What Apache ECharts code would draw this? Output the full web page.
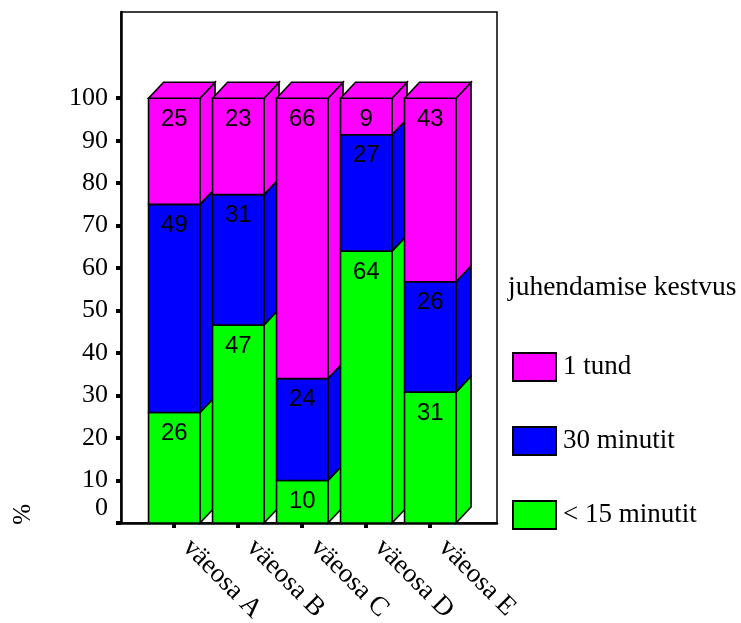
<!DOCTYPE html>
<html><head><meta charset="utf-8">
<script src="https://cdn.jsdelivr.net/npm/echarts@6/dist/echarts.min.js"></script>
<style>html,body{margin:0;padding:0;background:#fff}#c{width:741px;height:623px}</style>
</head><body><div id="c"></div>
<script>
const categories = ['väeosa A', 'väeosa B', 'väeosa C', 'väeosa D', 'väeosa E'];
const seriesNames = ['< 15 minutit', '30 minutit', '1 tund'];
const less15 = [26, 46.6, 10, 64, 30.8];
const min30 = [49, 30.7, 24, 27.4, 26];
const hour1 = [25, 22.7, 66, 8.6, 43.2];
const yTicks = [0, 10, 20, 30, 40, 50, 60, 70, 80, 90, 100];
const colors = ['#00FF00', '#0000FF', '#FF00FF'];

const SERIF = '"Liberation Serif","Times New Roman",serif';
const SANS = '"Liberation Sans",Arial,sans-serif';
const FW = 51.5, DX = 15, DY = 16;

const stackVals = [less15, min30, hour1];
const cum = categories.map(() => 0);
const seriesData = stackVals.map(arr => arr.map((v, i) => {
  const lo = cum[i]; cum[i] += v; return [i, lo, cum[i], v];
}));

function makeRender(k) {
  return function (params, api) {
    const i = api.value(0), lo = api.value(1), hi = api.value(2), v = api.value(3);
    const pLo = api.coord([i, lo]), pHi = api.coord([i, hi]);
    const x0 = pLo[0] - FW / 2 + 1, yl = pLo[1], yh = pHi[1];
    const st = { fill: colors[k], stroke: '#000', lineWidth: 1.6 };
    const base = i * 10;
    const ch = [
      { type: 'polygon', z2: base + k, shape: { points: [[x0 + FW, yl], [x0 + FW + DX, yl - DY], [x0 + FW + DX, yh - DY], [x0 + FW, yh]] }, style: st },
      { type: 'rect', z2: base + k, shape: { x: x0, y: yh, width: FW, height: yl - yh }, style: st },
      { type: 'text', z2: base + 6, style: { text: String(Math.round(v)), x: x0 + FW / 2, y: yh + 21, fill: '#000', font: '24px ' + SANS, textAlign: 'center', textVerticalAlign: 'middle' } }
    ];
    if (k === 2) {
      ch.push({ type: 'polygon', z2: base + 4, shape: { points: [[x0, yh], [x0 + DX, yh - DY], [x0 + FW + DX, yh - DY], [x0 + FW, yh]] }, style: st });
    }
    return { type: 'group', children: ch };
  };
}

const chart = echarts.init(document.getElementById('c'));
chart.setOption({
  animation: false,
  title: { text: 'juhendamise kestvus', left: 508, top: 274, padding: 0,
    textStyle: { fontFamily: SERIF, fontSize: 27.5, fontWeight: 'normal', color: '#000' } },
  legend: {
    data: ['1 tund', '30 minutit', '< 15 minutit'],
    orient: 'vertical', left: 512, top: 352, padding: 0,
    itemWidth: 43, itemHeight: 28, itemGap: 44, icon: 'rect',
    itemStyle: { borderColor: '#000', borderWidth: 2 },
    textStyle: { fontFamily: SERIF, fontSize: 27, color: '#000', padding: [0, 0, 0, 2] }
  },
  grid: { left: 121, right: 244, top: 12, bottom: 100, show: true, borderColor: '#000', borderWidth: 1.5,
    containLabel: false, outerBoundsMode: 'none' },
  xAxis: {
    type: 'value', min: -0.817, max: 5.058,
    axisLine: { show: true, onZero: false, lineStyle: { color: '#000', width: 2.5 } },
    axisTick: { show: true, length: 5, customValues: [0, 1, 2, 3, 4], lineStyle: { color: '#000', width: 4 } },
    axisLabel: { customValues: [0, 1, 2, 3, 4], formatter: v => categories[Math.round(v)], rotate: -45, margin: 7,
      fontFamily: SERIF, fontSize: 27, color: '#000', padding: [0, 0, 0, 19] },
    splitLine: { show: false }
  },
  yAxis: {
    type: 'value', min: 0, max: 120.3,
    axisLine: { show: true, onZero: false, lineStyle: { color: '#000', width: 2.5 } },
    axisTick: { show: true, length: 5, customValues: yTicks, lineStyle: { color: '#000', width: 4 } },
    axisLabel: { customValues: yTicks, margin: 13, fontFamily: SERIF, fontSize: 26, color: '#000',
      formatter: v => v === 0 ? '{z|0}' : String(v),
      rich: { z: { fontFamily: SERIF, fontSize: 26, color: '#000', padding: [0, 0, 30, 0] } } },
    splitLine: { show: false }
  },
  graphic: [{ type: 'text', left: 11, top: 504, rotation: Math.PI / 2,
    style: { text: '%', font: '25px ' + SERIF, fill: '#000' } }],
  series: seriesNames.map((name, k) => ({
    type: 'custom', name: name, z: 2,
    itemStyle: { color: colors[k] },
    renderItem: makeRender(k),
    encode: { x: 0, y: [1, 2] },
    data: seriesData[k]
  }))
});
</script></body></html>
